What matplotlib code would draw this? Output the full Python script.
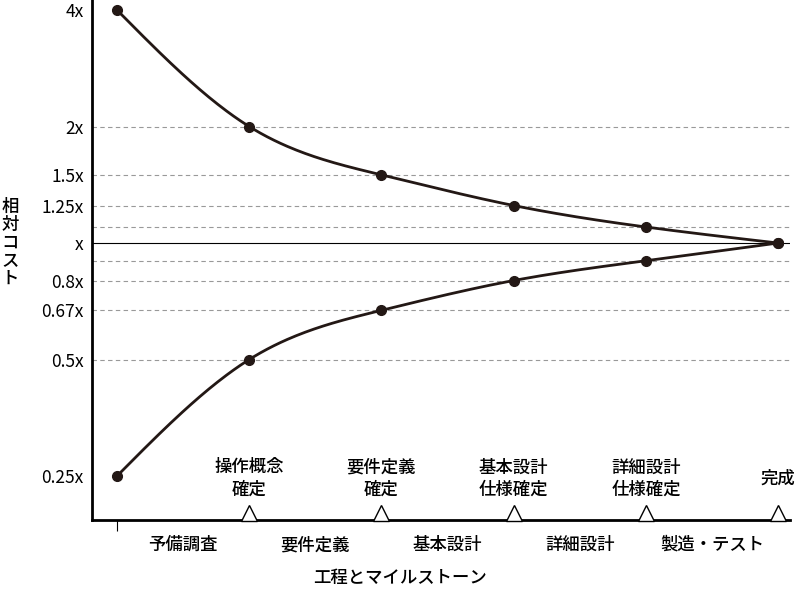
import numpy as np
import matplotlib.pyplot as plt
from matplotlib.transforms import blended_transform_factory

plt.rcParams['font.family'] = ['Noto Sans CJK JP', 'DejaVu Sans']

# data
stage_x = [0, 1, 2, 3, 4, 5]
upper = [4, 2, 1.5, 1.25, 1.1, 1]
lower = [0.25, 0.5, 0.67, 0.8, 0.9, 1]
tick_vals = [0.25, 0.5, 0.67, 0.8, 1, 1.25, 1.5, 2, 4]
tick_labels = ['0.25x', '0.5x', '0.67x', '0.8x', 'x', '1.25x', '1.5x', '2x', '4x']
grid_vals = [0.5, 0.67, 0.8, 0.9, 1.1, 1.25, 1.5, 2]
milestones = ['操作概念\n確定', '要件定義\n確定', '基本設計\n仕様確定', '詳細設計\n仕様確定', '完成']
phases = ['予備調査', '要件定義', '基本設計', '詳細設計', '製造・テスト']


def smooth(xs, ys, n=60):
    # natural cubic spline through the points, in log space
    x = np.array(xs, float)
    y = np.log2(ys)
    k = len(x)
    h = np.diff(x)
    A = np.zeros((k, k))
    r = np.zeros(k)
    A[0, 0] = A[-1, -1] = 1
    for i in range(1, k - 1):
        A[i, i - 1] = h[i - 1]
        A[i, i] = 2 * (h[i - 1] + h[i])
        A[i, i + 1] = h[i]
        r[i] = 6 * ((y[i + 1] - y[i]) / h[i] - (y[i] - y[i - 1]) / h[i - 1])
    M = np.linalg.solve(A, r)
    ox, oy = [], []
    for i in range(k - 1):
        t = np.linspace(x[i], x[i + 1], n)
        a = (x[i + 1] - t) / h[i]
        b = (t - x[i]) / h[i]
        s = a * y[i] + b * y[i + 1] + ((a**3 - a) * M[i] + (b**3 - b) * M[i + 1]) * h[i]**2 / 6
        ox.extend(t)
        oy.extend(s)
    return np.array(ox), 2 ** np.array(oy)


fig = plt.figure(figsize=(8, 5.93), dpi=100)
ax = fig.add_axes([0.115, 0.123, 0.8725, 0.877])
ax.set_yscale('log')
ax.set_ylim(2 ** -2.378, 2 ** 2.086)
ax.set_xlim(-0.189, 5.09)

for g in grid_vals:
    ax.axhline(g, color='#999999', ls=(0, (4, 3)), lw=0.8, zorder=1)
ax.axhline(1, color='black', lw=0.8, zorder=1)

for vals in (upper, lower):
    sx, sy = smooth(stage_x, vals)
    ax.plot(sx, sy, color='#231815', lw=2, zorder=2)
    ax.plot(stage_x, vals, 'o', color='#231815', ms=7, zorder=3)

ax.set_yticks(tick_vals)
ax.set_yticklabels(tick_labels, fontsize=12.5)
ax.yaxis.set_minor_locator(plt.NullLocator())
ax.tick_params(axis='y', length=0, pad=6)
ax.set_xticks([0])
ax.set_xticklabels([''])
ax.tick_params(axis='x', length=8, direction='out')
for s in ('top', 'right'):
    ax.spines[s].set_visible(False)
for s in ('left', 'bottom'):
    ax.spines[s].set_linewidth(2)

tr = blended_transform_factory(ax.transData, ax.transAxes)
for i, m in enumerate(milestones):
    x = stage_x[i + 1]
    ax.plot(x, 0.014, marker='^', ms=11, mfc='white', mec='black', mew=1,
            transform=tr, clip_on=False, zorder=4)
    ax.text(x, 0.08, m, transform=tr, ha='center', va='center', fontsize=12.5,
            linespacing=1.3, fontweight='medium')
for i, p in enumerate(phases):
    ax.text(stage_x[i] + 0.5, -0.048, p, transform=tr, ha='center', va='center',
            fontsize=12.5, fontweight='medium')

fig.text(0.5, 0.025, '工程とマイルストーン', ha='center', va='center', fontsize=12.5, fontweight='medium')
fig.text(0.013, 0.59, '相\n対\nコ\nス\nト', ha='center', va='center', fontsize=12.5,
         linespacing=1.0, fontweight='medium')

fig.savefig('out.png', dpi=100)
